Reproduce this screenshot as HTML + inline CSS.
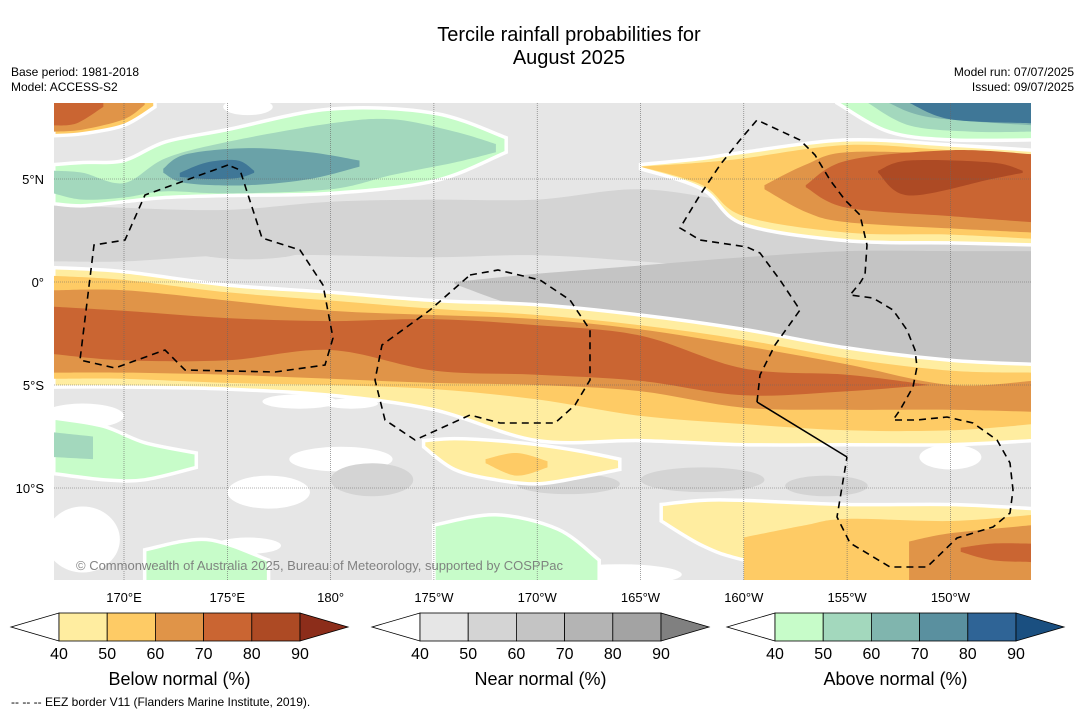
<!DOCTYPE html>
<html><head><meta charset="utf-8"><style>
body{margin:0;background:#fff;}
svg{display:block;font-family:"Liberation Sans","DejaVu Sans",sans-serif;}
</style></head><body>
<svg id="root" width="1085" height="713" viewBox="0 0 1085 713">
<defs><clipPath id="mapclip"><rect x="54" y="103" width="977" height="477"/></clipPath></defs>
<text x="569" y="41" font-size="20" text-anchor="middle">Tercile rainfall probabilities for</text>
<text x="569" y="64" font-size="20" text-anchor="middle">August 2025</text>
<text x="11" y="76" font-size="12">Base period: 1981-2018</text>
<text x="11" y="91" font-size="12">Model: ACCESS-S2</text>
<text x="1074" y="76" font-size="12" text-anchor="end">Model run: 07/07/2025</text>
<text x="1074" y="91" font-size="12" text-anchor="end">Issued: 09/07/2025</text>
<g clip-path="url(#mapclip)">
<g id="layers"></g>
<g id="grid"></g>
<g fill="none" stroke="#000" stroke-width="1.6">
<path stroke-dasharray="7,5" d="M228,165 L145,195 L125,240 L94,245 L80,360 L115,368 L165,350 L185,370 L275,372 L325,365 L333,338 L323,285 L300,250 L262,238 L240,170 Z"/>
<path stroke-dasharray="7,5" d="M470,275 L498,270 L540,280 L570,300 L590,330 L590,380 L575,405 L555,423 L500,423 L470,415 L415,440 L385,420 L375,380 L382,345 L430,310 Z"/>
<path stroke-dasharray="7,5" d="M757,402 L760,375 L775,345 L800,310 L780,280 L760,253 L747,247 L700,240 L680,228 L700,195 L720,165 L740,140 L757,120 L800,140 L815,155 L830,180 L845,200 L860,215 L867,245 L865,275 L860,283 L850,295 L873,298 L893,310 L907,330 L915,350 L917,367 L913,387 L900,410 L893,420 L917,420 L947,417 L973,423 L997,440 L1010,463 L1013,490 L1010,513 L993,527 L957,538 L927,567 L890,567 L850,543 L842,527 L837,517 L847,457"/>
<path d="M757,402 L847,457"/>
</g>
<text x="76" y="570" font-size="13" fill="#777" opacity="0.9">© Commonwealth of Australia 2025, Bureau of Meteorology, supported by COSPPac</text>
</g>
<g id="axislabels"></g>
<g id="cbars"></g>
<text x="11" y="706" font-size="12">--  --  -- EEZ border V11 (Flanders Marine Institute, 2019).</text>
</svg>
<script>
// ---- data ----
const lonTicks=[170,175,180,185,190,195,200,205,210];
const lonTickLabels=["170°E","175°E","180°","175°W","170°W","165°W","160°W","155°W","150°W"];
const latTicks=[5,0,-5,-10];
const latTickLabels=["5°N","0°","5°S","10°S"];
const cbLevels=["40","50","60","70","80","90"];
const belowColors=["#ffeda0","#fecb65","#e09448","#ca6532","#ad4a24","#8c2d1a"];
const nearColors=["#e6e6e6","#d4d4d4","#c4c4c4","#b4b4b4","#a3a3a3","#808080"];
const aboveColors=["#c7fcc9","#a3d8bd","#80b5ae","#5a909f","#2f6496","#1a4f80"];
const cbTitles=["Below normal (%)","Near normal (%)","Above normal (%)"];

// southern below-normal band
const sLons=[166.6,170,175,180,185,190,195,200,205,210,214];
const s40top=[0.7,0.5,-0.15,-0.5,-0.9,-1.1,-1.6,-2.3,-3.2,-3.8,-4.0];
const s40bot=[-5.1,-5.1,-5.2,-5.5,-6.2,-7.7,-7.7,-7.9,-7.9,-7.9,-7.7];
const s50top=[0.3,0.1,-0.5,-0.9,-1.3,-1.6,-2.1,-2.8,-3.7,-4.3,-4.4];
const s50bot=[-4.7,-4.7,-4.9,-5.0,-5.2,-5.7,-6.5,-6.9,-7.2,-7.2,-6.9];
const s60top=[-0.4,-0.4,-0.9,-1.4,-1.6,-1.8,-2.3,-3.1,-4.0,-5.0,-4.8];
const s60bot=[-4.4,-4.4,-4.5,-4.7,-4.9,-5.0,-5.3,-6.1,-6.2,-6.2,-6.3];
const s70Lons=[166.6,170,175,180,185,190,195,200,205,209];
const s70top=[-1.2,-1.4,-1.75,-1.9,-1.8,-2.1,-2.6,-4.2,-4.5,-5.0];
const s70bot=[-3.5,-3.8,-3.8,-3.3,-4.3,-4.5,-4.8,-5.5,-5.3,-5.0];
// northeast below-normal blob
const nLons=[195,198,200,205,210,214];
const n40top=[5.7,6.0,6.3,6.9,6.65,6.4];
const n40bot=[5.5,4.5,2.8,2.0,1.9,1.8];
const n50top=[5.6,5.8,6.0,6.65,6.4,6.2];
const n50bot=[5.6,4.7,3.2,2.4,2.3,2.1];
const n60Lons=[201,203,205,210,214];
const n60top=[4.7,5.7,6.3,6.2,5.9];
const n60bot=[4.5,3.4,2.9,2.6,2.4];
const n70Lons=[203,205,210,214];
const n70top=[4.7,5.9,6.4,6.2];
const n70bot=[4.6,3.6,3.2,2.9];
const n80Lons=[206.5,208,212,213.5];
const n80top=[5.4,5.9,5.8,5.4];
const n80bot=[5.3,4.2,5.0,5.3];
// northeast above-normal
const eLons40=[204.5,207,210,214]; const e40bot=[8.7,7.3,6.9,6.9];
const eLons50=[206,208,211,214]; const e50bot=[8.7,7.6,7.3,7.3];
const eLons60=[207,209,214]; const e60bot=[8.7,8.0,7.6];
const eLons70=[208,210,214]; const e70bot=[8.7,7.9,7.7];
// northwest above-normal
const wLons40=[166.6,168,170,172,175,180,185,188.5];
const w40top=[5.7,5.8,5.9,6.8,7.4,8.4,8.2,7.0];
const w40bot=[3.8,3.7,3.9,4.1,4.2,4.3,4.9,6.3];
const wLons50=[166.6,168,170,172,175,180,183,186,188];
const w50top=[5.4,5.3,4.8,6.0,6.8,7.7,7.9,7.3,6.7];
const w50bot=[4.3,4.0,4.1,4.4,4.3,4.5,5.2,5.8,6.3];
const wLons60=[171.9,173,176,179,181.4];
const w60top=[5.5,6.2,6.5,6.3,5.9];
const w60bot=[5.3,4.8,4.7,5.0,5.6];
const wLons70=[172.7,174,175.5,176.3];
const w70top=[5.3,5.8,5.9,5.4];
const w70bot=[5.1,5.0,5.05,5.3];
// northwest below-normal
const oLons=[166.6,168,170,171.5]; const o40bot=[7.1,7.2,7.6,8.5];
const o50Lons=[166.6,168,170,171]; const o50bot=[7.3,7.4,7.9,8.6];
const o70Lons=[166.6,167.7,169]; const o70bot=[7.6,7.7,8.5];
// south yellow blobs
const yLons=[184.5,186,188,190,192,194];
const y40top=[-7.7,-7.6,-7.7,-7.9,-8.2,-8.6];
const y40bot=[-8.0,-9.1,-9.6,-9.8,-9.5,-9.1];
const y50Lons=[187.5,189,190.5]; const y50top=[-8.6,-8.3,-8.7]; const y50bot=[-8.8,-9.4,-9.0];
const tLons=[196,198,200,205,210,214];
const t40top=[-10.8,-10.6,-10.6,-10.8,-10.8,-11.0];
const t40bot=[-11.6,-12.8,-13.5,-14.6,-14.6,-14.6];
const t50Lons=[200,203,205,210,214]; const t50top=[-12.4,-11.8,-11.5,-11.6,-11.3];
const t60Lons=[208,210,214]; const t60top=[-12.6,-12.2,-11.8];
const t70Lons=[210.5,212,214]; const t70top=[-12.9,-12.7,-12.7]; const t70bot=[-13.1,-13.5,-13.6];
// south greens
const gLons=[166.6,169,171,173.5]; const g40top=[-6.6,-7.0,-7.8,-8.3]; const g40bot=[-9.3,-9.6,-9.6,-9.0];
const gtLons=[166.6,168.5]; const gt50top=[-7.3,-7.5]; const gt50bot=[-8.5,-8.6];
const gmLons=[185,188,191,193]; const gm40top=[-11.8,-11.3,-12.0,-13.5];
const glLons=[171,174,177]; const gl40top=[-13.0,-12.5,-13.5];
// gray
const nearLons=[166.6,170,175,180,185,190,195,200,205,210,214];
const nearTop=[3.8,3.6,3.5,3.9,4.0,4.0,4.5,3.8,3.0,2.0,1.9];
const nearBot=[1.0,1.0,1.3,1.3,1.2,1.3,1.0,0.6,0.4,0.6,0.6];
const ngLons=[186,190,195,200,205,210,214];
const ngTop=[0.0,0.4,0.8,1.2,1.5,1.5,1.5];
const ngBot=[-0.1,-1.4,-1.8,-2.6,-3.3,-3.8,-4.0];
// darker gray patches: [lon, lat, rLon, rLat]
const dgLon=[182,191.5,198,204,176,197];
const dgLat=[-9.6,-9.8,-9.6,-9.9,1.7,-5.1];
const dgRLon=[2.0,2.5,3.0,2.0,3.0,1.0];
const dgRLat=[0.8,0.5,0.6,0.5,0.6,0.3];
// white (<40%) patches: [lon, lat, rLon, rLat]
const whiteLon=[168,178.5,180.5,177,168,194,210,176,181,176];
const whiteLat=[-6.5,-5.8,-8.6,-10.2,-12.5,-14.2,-8.5,8.5,-5.9,-12.8];
const whiteRLon=[2.0,1.8,2.5,2.0,1.8,3.0,1.5,1.2,1.3,1.6];
const whiteRLat=[0.6,0.35,0.6,0.8,1.6,0.5,0.6,0.4,0.25,0.4];

// ---- scales ----
const X=lon=>124+(lon-170)*20.66;
const Y=lat=>282-lat*20.6;
const NS="http://www.w3.org/2000/svg";
const TOPL=8.9, BOTL=-14.8;
function smooth(p){let d='';for(let i=0;i<p.length-1;i++){const p0=p[i-1]||p[i],p1=p[i],p2=p[i+1],p3=p[i+2]||p2;
d+=`C${(p1[0]+(p2[0]-p0[0])/6).toFixed(1)},${(p1[1]+(p2[1]-p0[1])/6).toFixed(1)} ${(p2[0]-(p3[0]-p1[0])/6).toFixed(1)},${(p2[1]-(p3[1]-p1[1])/6).toFixed(1)} ${p2[0].toFixed(1)},${p2[1].toFixed(1)}`;}return d;}
const layers=document.getElementById('layers');
function band(name,lons,top,bot,fill,outline){
  const t=lons.map((l,i)=>[X(l),Y(typeof top==='number'?top:top[i])]);
  const b=lons.map((l,i)=>[X(l),Y(typeof bot==='number'?bot:bot[i])]).reverse();
  const d=`M${t[0][0]},${t[0][1]}`+smooth(t)+`L${b[0][0]},${b[0][1]}`+smooth(b)+'Z';
  const p=document.createElementNS(NS,'path');
  p.setAttribute('d',d);p.setAttribute('fill',fill);
  if(outline){p.setAttribute('stroke','#fff');p.setAttribute('stroke-width','3.5');}
  
  
  layers.appendChild(p);
}
function blobs(name,lons,lats,rl,rt,fill){
  lons.forEach((l,i)=>{const e=document.createElementNS(NS,'ellipse');
  e.setAttribute('cx',X(l));e.setAttribute('cy',Y(lats[i]));e.setAttribute('rx',rl[i]*20.66);e.setAttribute('ry',rt[i]*20.6);e.setAttribute('fill',fill);
  
  
  layers.appendChild(e);});
}
// base
const base=document.createElementNS(NS,'rect');
base.setAttribute('x',54);base.setAttribute('y',103);base.setAttribute('width',977);base.setAttribute('height',477);base.setAttribute('fill',nearColors[0]);


layers.appendChild(base);
blobs('below-40-patch',whiteLon,whiteLat,whiteRLon,whiteRLat,'#fff');
band('near-50-north',nearLons,nearTop,nearBot,nearColors[1]);
band('near-60-east',ngLons,ngTop,ngBot,nearColors[2]);
blobs('near-50-patch',dgLon,dgLat,dgRLon,dgRLat,nearColors[1]);
// south below band
band('below-40-south',sLons,s40top,s40bot,belowColors[0],true);
band('below-50-south',sLons,s50top,s50bot,belowColors[1]);
band('below-60-south',sLons,s60top,s60bot,belowColors[2]);
band('below-70-south',s70Lons,s70top,s70bot,belowColors[3]);
// NE below blob
band('below-40-ne',nLons,n40top,n40bot,belowColors[0],true);
band('below-50-ne',nLons,n50top,n50bot,belowColors[1]);
band('below-60-ne',n60Lons,n60top,n60bot,belowColors[2]);
band('below-70-ne',n70Lons,n70top,n70bot,belowColors[3]);
band('below-80-ne',n80Lons,n80top,n80bot,belowColors[4]);
// NE above
band('above-40-ne',eLons40,TOPL,e40bot,aboveColors[0],true);
band('above-50-ne',eLons50,TOPL,e50bot,aboveColors[1]);
band('above-60-ne',eLons60,TOPL,e60bot,aboveColors[2]);
band('above-70-ne',eLons70,TOPL,e70bot,"#3f7797");
// NW above
band('above-40-nw',wLons40,w40top,w40bot,aboveColors[0],true);
band('above-50-nw',wLons50,w50top,w50bot,aboveColors[1]);
band('above-60-nw',wLons60,w60top,w60bot,"#6aa2a8");
band('above-70-nw',wLons70,w70top,w70bot,"#3f7797");
// NW below
band('below-40-nw',oLons,TOPL,o40bot,belowColors[1],true);
band('below-50-nw',o50Lons,TOPL,o50bot,belowColors[2]);
band('below-70-nw',o70Lons,TOPL,o70bot,belowColors[3]);
// south yellow
band('below-40-s-blob',yLons,y40top,y40bot,belowColors[0],true);
band('below-50-s-blob',y50Lons,y50top,y50bot,belowColors[1]);
band('below-40-se',tLons,t40top,t40bot,belowColors[0],true);
band('below-50-se',t50Lons,t50top,BOTL,belowColors[1]);
band('below-60-se',t60Lons,t60top,BOTL,belowColors[2]);
band('below-70-se',t70Lons,t70top,t70bot,belowColors[3]);
// south greens
band('above-40-sw',gLons,g40top,g40bot,aboveColors[0],true);
band('above-50-sw',gtLons,gt50top,gt50bot,aboveColors[1]);
band('above-40-s-mid',gmLons,gm40top,BOTL,aboveColors[0],true);
band('above-40-s-left',glLons,gl40top,BOTL,aboveColors[0],true);

// grid + labels
const grid=document.getElementById('grid'), al=document.getElementById('axislabels');
lonTicks.forEach((l,i)=>{const ln=document.createElementNS(NS,'line');
ln.setAttribute('x1',X(l));ln.setAttribute('x2',X(l));ln.setAttribute('y1',103);ln.setAttribute('y2',580);
ln.setAttribute('stroke','#666');ln.setAttribute('stroke-width','0.6');ln.setAttribute('stroke-dasharray','1,1');


grid.appendChild(ln);
const t=document.createElementNS(NS,'text');t.setAttribute('x',X(l));t.setAttribute('y',602);t.setAttribute('font-size','13');t.setAttribute('text-anchor','middle');t.textContent=lonTickLabels[i];


al.appendChild(t);});
latTicks.forEach((l,i)=>{const ln=document.createElementNS(NS,'line');
ln.setAttribute('y1',Y(l));ln.setAttribute('y2',Y(l));ln.setAttribute('x1',54);ln.setAttribute('x2',1031);
ln.setAttribute('stroke','#666');ln.setAttribute('stroke-width','0.6');ln.setAttribute('stroke-dasharray','1,1');


grid.appendChild(ln);
const t=document.createElementNS(NS,'text');t.setAttribute('x',44);t.setAttribute('y',Y(l)+5);t.setAttribute('font-size','13');t.setAttribute('text-anchor','end');t.textContent=latTickLabels[i];


al.appendChild(t);});

// colorbars
const cb=document.getElementById('cbars');
const cbStarts=[59,420,775], cbColors=[belowColors,nearColors,aboveColors], cbNames=['below','near','above'];
cbStarts.forEach((x0,k)=>{const w=48.2,y0=613,h=28,cols=cbColors[k];
const g=document.createElementNS(NS,'g');


const lt=document.createElementNS(NS,'polygon');lt.setAttribute('points',`${x0-48},${y0+h/2} ${x0},${y0} ${x0},${y0+h}`);lt.setAttribute('fill','#fff');lt.setAttribute('stroke','#000');lt.setAttribute('stroke-width','0.8');


g.appendChild(lt);
for(let i=0;i<5;i++){const r=document.createElementNS(NS,'rect');r.setAttribute('x',x0+i*w);r.setAttribute('y',y0);r.setAttribute('width',w);r.setAttribute('height',h);r.setAttribute('fill',cols[i]);r.setAttribute('stroke','#000');r.setAttribute('stroke-width','0.8');


g.appendChild(r);}
const rt=document.createElementNS(NS,'polygon');rt.setAttribute('points',`${x0+5*w},${y0} ${x0+5*w+48},${y0+h/2} ${x0+5*w},${y0+h}`);rt.setAttribute('fill',cols[5]);rt.setAttribute('stroke','#000');rt.setAttribute('stroke-width','0.8');


g.appendChild(rt);
cbLevels.forEach((lv,i)=>{const t=document.createElementNS(NS,'text');t.setAttribute('x',x0+i*w);t.setAttribute('y',659);t.setAttribute('font-size','16');t.setAttribute('text-anchor','middle');t.textContent=lv;


g.appendChild(t);});
const tt=document.createElementNS(NS,'text');tt.setAttribute('x',x0+2.5*w);tt.setAttribute('y',685);tt.setAttribute('font-size','18');tt.setAttribute('text-anchor','middle');tt.textContent=cbTitles[k];


g.appendChild(tt);
cb.appendChild(g);});
</script>
</body></html>
